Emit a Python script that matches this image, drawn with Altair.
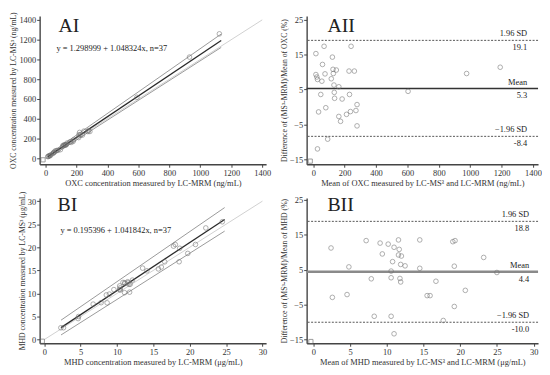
import altair as alt
import pandas as pd

FONT = "Liberation Serif"

# ---------------- OXC data ----------------
oxc_mrm = [15.7, 63.0, 220.0, 113.3, 55.4, 16.2, 22.0, 25.9, 71.4, 53.0,
           119.2, 139.2, 121.9, 110.3, 127.8, 158.3, 216.3, 248.5, 47.1, 131.2,
           134.3, 226.8, 181.9, 34.2, 80.1, 278.0, 165.2, 238.5, 214.2, 273.4,
           177.6, 286.5, 96.2, 28.6, 590.4, 930.1, 1123.1]
oxc_ms3 = [18.3, 75.0, 262.0, 130.7, 62.6, 17.8, 24.0, 28.1, 78.6, 57.0,
           132.8, 154.8, 134.1, 119.7, 136.2, 167.7, 239.7, 275.5, 48.9, 136.8,
           137.7, 235.2, 186.1, 33.8, 79.9, 280.0, 160.8, 235.5, 209.8, 270.6,
           170.4, 271.5, 87.8, 25.4, 617.6, 1023.9, 1258.9]
oxc_mean = [17, 69, 241, 122, 59, 17, 23, 27, 75, 55,
            126, 147, 128, 115, 132, 163, 228, 262, 48, 134,
            136, 231, 184, 34, 80, 279, 163, 237, 212, 272,
            174, 279, 92, 27, 604, 977, 1191]
oxc_diff = [15.3, 17.4, 17.4, 14.3, 12.2, 9.3, 8.6, 7.9, 9.5, 7.4,
            10.8, 10.6, 9.6, 8.1, 6.3, 5.8, 10.3, 10.3, 3.6, 4.2,
            2.5, 3.6, 2.3, -1.4, -0.2, 0.7, -2.7, -1.3, -2.1, -1.0,
            -4.1, -5.4, -9.2, -12.0, 4.5, 9.6, 11.4]
oxc_fit_x = [15, 1135]
oxc_fit_y = [17.0, 1191.2]
oxc_upper_y = [33, 1257]
oxc_lower_y = [1, 1122]
oxc_ident = [0, 1400]
oxc_levels = [19.1, 5.3, -8.4]
oxc_level_top = ["1.96 SD", "Mean", "\u22121.96 SD"]
oxc_level_bot = ["19.1", "5.3", "-8.4"]

# ---------------- MHD data ----------------
mhd_mrm = [2.28, 2.64, 4.71, 4.65, 6.72, 7.81, 8.64, 8.53, 8.95, 9.57,
           10.41, 10.36, 10.46, 11.04, 10.37, 10.82, 11.07, 11.07, 11.47, 11.51,
           11.65, 11.81, 12.12, 11.73, 13.52, 14.11, 15.69, 16.09, 16.56, 18.54,
           17.77, 18.02, 18.62, 19.73, 20.79, 22.21, 24.48]
mhd_ms3 = [2.56, 2.56, 4.99, 4.55, 7.68, 7.99, 7.96, 9.67, 9.85, 10.83,
           11.19, 10.84, 10.74, 10.16, 11.63, 12.38, 12.13, 12.33, 12.53, 12.29,
           11.95, 11.99, 12.88, 10.27, 15.48, 14.89, 15.31, 15.71, 16.84, 16.86,
           20.24, 20.58, 19.78, 18.67, 20.61, 24.19, 25.53]
mhd_mean = [2.42, 2.6, 4.85, 4.6, 7.2, 7.9, 8.3, 9.1, 9.4, 10.2,
            10.8, 10.6, 10.6, 10.6, 11.0, 11.6, 11.6, 11.7, 12.0, 11.9,
            11.8, 11.9, 12.5, 11.0, 14.5, 14.5, 15.5, 15.9, 16.7, 17.7,
            19.0, 19.3, 19.2, 19.2, 20.7, 23.2, 25.0]
mhd_diff = [11.2, -2.9, 5.8, -2.1, 13.3, 2.4, -8.3, 12.6, 9.5, 12.3,
            7.3, 4.6, 2.7, -8.3, 11.4, 13.5, 9.2, 10.8, 8.9, 6.5,
            2.5, 1.5, 6.1, -13.3, 13.5, 5.4, -2.4, -2.4, 1.7, -9.5,
            13.0, 13.3, 6.0, -5.5, -0.9, 8.5, 4.2]
mhd_fit_x = [2.3, 24.8]
mhd_fit_y = [2.59, 26.03]
mhd_upper_y = [4.2, 28.6]
mhd_lower_y = [1.0, 23.5]
mhd_ident = [0, 30]
mhd_levels = [18.8, 4.4, -10.0]
mhd_level_top = ["1.96 SD", "Mean", "\u22121.96 SD"]
mhd_level_bot = ["18.8", "4.4", "-10.0"]

# corner markers (small squares at axes origin)
corner_ai = [-16, -15]
corner_aii = [-19, -15.5]
corner_bi = [-0.27, -0.36]
corner_bii = [-0.32, -15.5]

W_L, W_R = 229, 234
H_T, H_B = 150, 147


def xaxis(values, title):
    return alt.Axis(values=values, title=title, labelFlush=False,
                    labelOverlap=False, grid=False, format="d")


def yaxis(values, title):
    return alt.Axis(values=values, title=title, labelOverlap=False, grid=False,
                    format="d", labelColor="#333", labelOpacity=1, titlePadding=1,
                    titleFontSize=7.8)


def text_layer(txt, x, y, size, align="left"):
    return alt.Chart(pd.DataFrame({"t": [txt]})).mark_text(
        font=FONT, fontSize=size, align=align, baseline="middle", color="#222"
    ).encode(x=alt.value(x), y=alt.value(y), text="t:N")


def scatter_panel(w, h, xdom, ydom, ticks, mrm, ms3, fit_x, fit_y, up_y, lo_y,
                  ident, corner, xtitle, ytitle, label, label_pos, eq, eq_pos):
    xs = alt.Scale(domain=xdom, nice=False, zero=False)
    ys = alt.Scale(domain=ydom, nice=False, zero=False)
    X = alt.X("x:Q", scale=xs, axis=xaxis(ticks, xtitle))
    Y = alt.Y("y:Q", scale=ys, axis=yaxis(ticks, ytitle))

    def line(xv, yv, color, width):
        return alt.Chart(pd.DataFrame({"x": xv, "y": yv})).mark_line(
            color=color, strokeWidth=width).encode(x=X, y=Y)

    ident_l = line(ident, ident, "#d0d0d0", 1)
    up_l = line(fit_x, up_y, "#9a9a9a", 1)
    lo_l = line(fit_x, lo_y, "#9a9a9a", 1)
    fit_l = line(fit_x, fit_y, "#2a2a2a", 1.3)
    pts = alt.Chart(pd.DataFrame({"x": mrm, "y": ms3})).mark_point(
        shape="circle", filled=False, color="#707070", size=22, strokeWidth=0.8
    ).encode(x=X, y=Y)
    corner_m = alt.Chart(pd.DataFrame({"x": [corner[0]], "y": [corner[1]]})).mark_point(
        shape="square", filled=False, color="#666", size=18, strokeWidth=0.9
    ).encode(x=X, y=Y)
    lab = text_layer(label, label_pos[0], label_pos[1], 20)
    eqt = text_layer(eq, eq_pos[0], eq_pos[1], 8.5)
    return alt.layer(ident_l, up_l, lo_l, fit_l, pts, corner_m, lab, eqt).properties(
        width=w, height=h)


def ba_panel(w, h, xdom, ydom, xticks, yticks, mean, diff, levels, tops, bots,
             mean_color, mean_width, corner, xtitle, ytitle, label, label_pos, text_x):
    xs = alt.Scale(domain=xdom, nice=False, zero=False)
    ys = alt.Scale(domain=ydom, nice=False, zero=False)
    X = alt.X("x:Q", scale=xs, axis=xaxis(xticks, xtitle))
    Y = alt.Y("y:Q", scale=ys, axis=yaxis(yticks, ytitle))
    lv = pd.DataFrame({"y": levels, "top": tops, "bot": bots,
                       "kind": ["sd", "mean", "sd"]})
    sd_rules = alt.Chart(lv[lv.kind == "sd"]).mark_rule(
        color="#555", strokeWidth=1, strokeDash=[2, 1.5]).encode(y=Y)
    mean_rule = alt.Chart(lv[lv.kind == "mean"]).mark_rule(
        color=mean_color, strokeWidth=mean_width).encode(y=Y)
    top_t = alt.Chart(lv).mark_text(font=FONT, fontSize=8.5, align="right",
                                    baseline="middle", dy=-7, color="#222").encode(
        x=alt.value(text_x), y=Y, text="top:N")
    bot_t = alt.Chart(lv).mark_text(font=FONT, fontSize=8.5, align="right",
                                    baseline="middle", dy=7, color="#222").encode(
        x=alt.value(text_x), y=Y, text="bot:N")
    pts = alt.Chart(pd.DataFrame({"x": mean, "y": diff})).mark_point(
        shape="circle", filled=False, color="#707070", size=22, strokeWidth=0.8
    ).encode(x=X, y=Y)
    corner_m = alt.Chart(pd.DataFrame({"x": [corner[0]], "y": [corner[1]]})).mark_point(
        shape="square", filled=False, color="#666", size=18, strokeWidth=0.9
    ).encode(x=X, y=Y)
    lab = text_layer(label, label_pos[0], label_pos[1], 20)
    return alt.layer(sd_rules, mean_rule, pts, corner_m, top_t, bot_t, lab).properties(
        width=w, height=h)


ai = scatter_panel(
    W_L, H_T, [-38, 1425], [-60, 1440], [0, 200, 400, 600, 800, 1000, 1200, 1400],
    oxc_mrm, oxc_ms3, oxc_fit_x, oxc_fit_y, oxc_upper_y, oxc_lower_y, oxc_ident,
    corner_ai,
    "OXC concentration measured by LC-MRM (ng/mL)",
    "OXC concentration measured  by LC-MS\u00b3 (ng/mL)",
    "AI", (19, 10), "y = 1.298999 + 1.048324x, n=37", (17, 32))

aii = ba_panel(
    W_R, H_T, [-42, 1432], [-16.4, 26.1], [0, 200, 400, 600, 800, 1000, 1200, 1400],
    [-15, -5, 5, 15, 25], oxc_mean, oxc_diff, oxc_levels, oxc_level_top, oxc_level_bot,
    "#333", 1.5, corner_aii,
    "Mean of OXC measured by LC-MS\u00b3 and LC-MRM (ng/mL)",
    "Difference of (MS\u00b3-MRM)/Mean of OXC (%)",
    "AII", (21, 10), W_R - 11)

bi = scatter_panel(
    W_L, H_B, [-0.64, 30.5], [-0.8, 30.7], [0, 5, 10, 15, 20, 25, 30],
    mhd_mrm, mhd_ms3, mhd_fit_x, mhd_fit_y, mhd_upper_y, mhd_lower_y, mhd_ident,
    corner_bi,
    "MHD concentration measured by LC-MRM (\u03bcg/mL)",
    "MHD concentration measured  by LC-MS\u00b3 (\u03bcg/mL)",
    "BI", (18, 7), "y = 0.195396 + 1.041842x, n=37", (21, 32))

bii = ba_panel(
    W_R, H_B, [-0.9, 30.6], [-16.0, 25.5], [0, 5, 10, 15, 20, 25, 30],
    [-15, -5, 5, 15, 25], mhd_mean, mhd_diff, mhd_levels, mhd_level_top, mhd_level_bot,
    "#8a8a8a", 2.5, corner_bii,
    "Mean of MHD measured by LC-MS\u00b3 and LC-MRM (\u03bcg/mL)",
    "Difference of (MS\u00b3-MRM)/Mean of MHD (%)",
    "BII", (21, 7), W_R - 9)

chart = alt.concat(
    ai, aii, bi, bii, columns=2, spacing={"row": 34, "column": 41}, bounds="flush"
).properties(
    padding={"left": 2, "top": 0, "right": 0, "bottom": 0}
).configure_view(stroke=None).configure_axis(
    domainColor="#444", domainWidth=1.4, tickColor="#444", tickSize=3,
    labelFont=FONT, labelFontSize=8.5, labelColor="#333", labelPadding=1,
    titleFont=FONT, titleFontSize=8.5, titleFontWeight="normal", titleColor="#333",
    titlePadding=2,
)

chart.save("out.html", embed_options={"renderer": "svg", "actions": False})
